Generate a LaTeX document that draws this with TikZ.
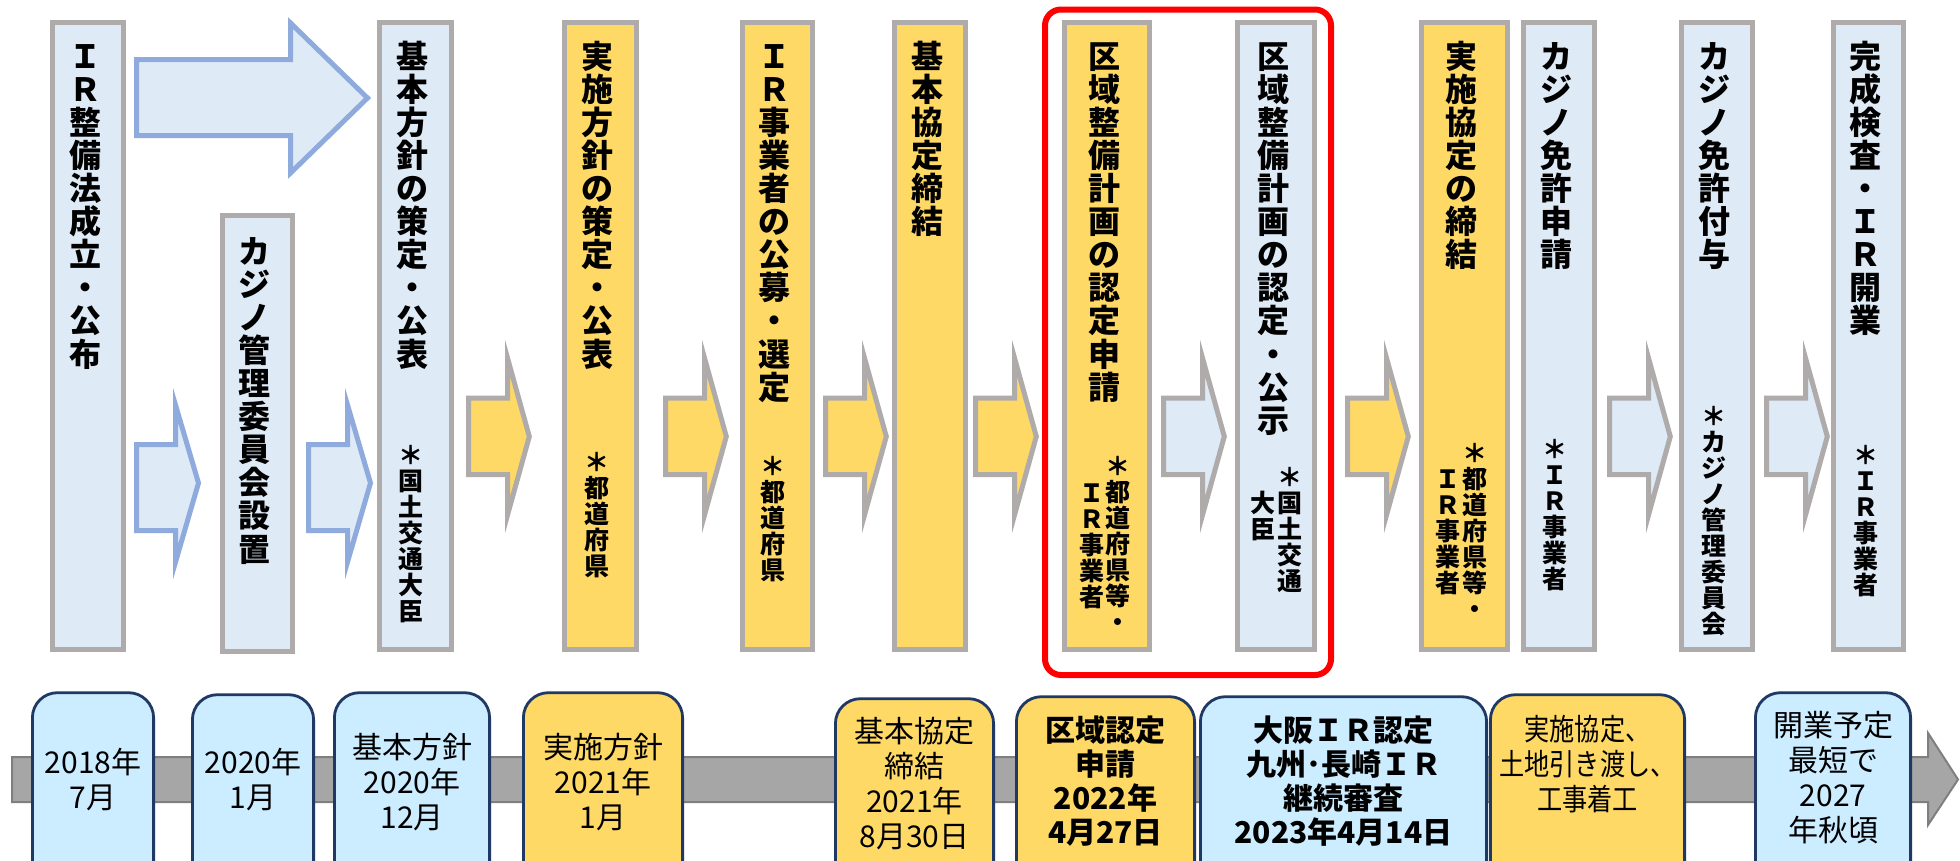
\documentclass[tikz,border=0pt]{standalone}
\usepackage{graphicx}
\usepackage{fontspec}
\setmainfont{Noto Sans CJK JP}
\makeatletter
\newdimen\vsp
\newcommand\vstack[1]{\vbox{\offinterlineskip\@tfor\vs@c:=#1\do{\hbox{\vrule height.86\vsp depth.14\vsp width0pt\vs@c}}}}
\makeatother
\newcommand\hdrfont{\bfseries\fontsize{32}{32}\selectfont\setlength\vsp{33.1pt}}
\newcommand\notefont{\bfseries\fontsize{25}{25}\selectfont\setlength\vsp{26pt}}
\newcommand\narrow[1]{\scalebox{0.84}[1]{#1}}
\definecolor{cblue}{HTML}{DEEBF7}
\definecolor{cyel}{HTML}{FFD966}
\definecolor{cgrey}{HTML}{AFABAB}
\definecolor{ablue}{HTML}{8FAADC}
\definecolor{tblue}{HTML}{CCECFF}
\definecolor{navy}{HTML}{1F3864}
\definecolor{barfill}{HTML}{A6A6A6}
\definecolor{barline}{HTML}{7F7F7F}
\tikzset{
  colb/.style={draw=cgrey, fill=cblue, line width=5, inner sep=0, outer sep=0},
  coly/.style={draw=cgrey, fill=cyel, line width=5, inner sep=0, outer sep=0},
  hdr/.style={anchor=north, inner sep=0, font=\hdrfont},
  note/.style={anchor=north, inner sep=0, font=\notefont},
  tlbox/.style={draw=navy, line width=2.8, rounded corners=25, inner sep=0, outer sep=0},
  tltext/.style={align=center, inner sep=0, font=\fontsize{30}{35}\selectfont},
  tlbold/.style={align=center, inner sep=0, font=\bfseries\fontsize{30}{34}\selectfont},
  arrB/.style={draw=ablue, fill=cblue, line width=5, line join=miter},
  arrY/.style={draw=cgrey, fill=cyel, line width=5, line join=miter},
  arrG/.style={draw=cgrey, fill=cblue, line width=5, line join=miter},
  grpbox/.style={draw=red, line width=6, rounded corners=16, inner sep=0},
  tlbar/.style={draw=barline, fill=barfill, line width=2, line join=miter}
}
% column box: name, style, x1, x2, y1, y2 (outer edges)
\newcommand\cbox[6]{\node[#2, minimum width={#4-#3-5}, minimum height={#6-#5-5}] (#1) at ({(#3+#4)/2},{(#5+#6)/2}) {};}
% timeline box: name, fill, x1, x2, ytop
\newcommand\tbox[5]{\node[tlbox, fill=#2, minimum width={#4-#3-2.8}, minimum height={900-#5}] (#1) at ({(#3+#4)/2},{(#5+1.4+900)/2}) {};}
% small block arrow (upper level): left outer x, style
\newcommand\yarrow[2]{\draw[#2] (#1+2.5,398)--(#1+41.5,398)--(#1+41.5,358)--(#1+63.3,436.5)--(#1+41.5,515)--(#1+41.5,474.5)--(#1+2.5,474.5)--cycle;}
% small block arrow (lower level)
\newcommand\barrow[2]{\draw[#2] (#1+2.5,444.5)--(#1+41.5,444.5)--(#1+41.5,405)--(#1+64.5,483)--(#1+41.5,562)--(#1+41.5,530.5)--(#1+2.5,530.5)--cycle;}
\begin{document}
\begin{tikzpicture}[x=1pt,y=-1pt]
\useasboundingbox (0,0) rectangle (1960,860);
\clip (0,0) rectangle (1960,860);
\fill[white] (0,0) rectangle (1960,860);
% block arrows
\draw[arrB] (136.5,59.5)--(290.5,59.5)--(290.5,23)--(367.5,98)--(290.5,173)--(290.5,135.5)--(136.5,135.5)--cycle;
\barrow{134}{arrB}
\barrow{306}{arrB}
\yarrow{466}{arrY}
\yarrow{663}{arrY}
\yarrow{823}{arrY}
\yarrow{973}{arrY}
\yarrow{1161}{arrG}
\yarrow{1345}{arrY}
\yarrow{1607}{arrG}
\yarrow{1764}{arrG}
% columns
\cbox{c1}{colb}{50}{126}{20}{652}
\cbox{c2}{colb}{220}{295}{213}{654}
\cbox{c3}{colb}{377}{454}{20}{652}
\cbox{c4}{coly}{562}{639}{20}{652}
\cbox{c5}{coly}{740}{815}{20}{652}
\cbox{c6}{coly}{892}{968}{20}{652}
\cbox{c7}{coly}{1062}{1152}{20}{652}
\cbox{c8}{colb}{1235}{1317}{20}{652}
\cbox{c9}{coly}{1419}{1510}{20}{652}
\cbox{c10}{colb}{1521}{1597}{20}{652}
\cbox{c11}{colb}{1679}{1755}{20}{652}
\cbox{c12}{colb}{1831}{1906}{20}{652}
% headers
\node[hdr] (h1) at (85,39.5) {\vstack{ＩＲ整備法成立・公布}};
\node[hdr] (h2) at (254.5,234.5) {\vstack{カジノ管理委員会設置}};
\node[hdr] (h3) at (412.5,39.5) {\vstack{基本方針の策定・公表}};
\node[hdr] (h4) at (597.5,39.5) {\vstack{実施方針の策定・公表}};
\node[hdr] (h5) at (774.5,39.5) {\vstack{ＩＲ事業者の公募・選定}};
\node[hdr] (h6) at (927,39.5) {\vstack{基本協定締結}};
\node[hdr] (h7) at (1104,39.5) {\vstack{区域整備計画の認定申請}};
\node[hdr] (h8) at (1273,39.5) {\vstack{区域整備計画の認定・公示}};
\node[hdr] (h9) at (1461.5,39.5) {\vstack{実施協定の締結}};
\node[hdr] (h10) at (1556,39.5) {\vstack{カジノ免許申請}};
\node[hdr] (h11) at (1714,39.5) {\vstack{カジノ免許付与}};
\node[hdr] (h12) at (1865.5,39.5) {\vstack{完成検査・ＩＲ開業}};
% notes
\node[note] (n3) at (411,442) {\vstack{＊国土交通大臣}};
\node[note] (n4) at (597,449) {\vstack{＊都道府県}};
\node[note] (n5) at (773,453) {\vstack{＊都道府県}};
\node[note] (n7a) at (1118,453) {\vstack{＊都道府県等・}};
\node[note] (n7b) at (1092,480) {\vstack{ＩＲ事業者}};
\node[note] (n8a) at (1290,464) {\vstack{＊国土交通}};
\node[note] (n8b) at (1263,490) {\vstack{大臣}};
\node[note] (n9a) at (1475,440) {\vstack{＊都道府県等・}};
\node[note] (n9b) at (1448,466) {\vstack{ＩＲ事業者}};
\node[note] (n10) at (1555,436) {\vstack{＊ＩＲ事業者}};
\node[note] (n11) at (1714,403) {\vstack{＊カジノ管理委員会}};
\node[note] (n12) at (1866,442) {\vstack{＊ＩＲ事業者}};
% red group frame
\node[grpbox, minimum width=286, minimum height=665.5] (grp) at (1188,342.25) {};
% timeline bar
\draw[tlbar] (12,757)--(1928,757)--(1928,733)--(1958,779.5)--(1928,825)--(1928,802)--(12,802)--cycle;
% timeline boxes
\tbox{t1}{tblue}{31}{155}{692}
\tbox{t2}{tblue}{191}{315}{694}
\tbox{t3}{tblue}{333}{491}{692}
\tbox{t4}{cyel}{522}{684}{692}
\tbox{t5}{cyel}{834}{995}{698}
\tbox{t6}{cyel}{1015}{1196}{696}
\tbox{t7}{tblue}{1199}{1488}{696}
\tbox{t8}{cyel}{1489}{1686}{694}
\tbox{t9}{tblue}{1754}{1912}{692}
% timeline texts
\node[tltext] (l1) at (93,780) {2018年\\7月};
\node[tltext] (l2) at (253,780) {2020年\\1月};
\node[tltext] (l3) at (412,782) {基本方針\\2020年\\12月};
\node[tltext] (l4) at (603,782) {実施方針\\2021年\\1月};
\node[tltext] (l5) at (914.5,783.5) {基本協定\\締結\\2021年\\8月30日};
\node[tlbold] (l6) at (1105.5,781) {区域認定\\申請\\2022年\\4月27日};
\node[tlbold] (l7) at (1343.5,781) {大阪ＩＲ認定\\九州･長崎ＩＲ\\継続審査\\2023年4月14日};
\node[tltext] (l8) at (1587.5,764) {\narrow{実施協定、}\\\narrow{土地引き渡し、}\\\narrow{工事着工}};
\node[tltext] (l9) at (1833,778) {開業予定\\最短で\\2027\\年秋頃};
\end{tikzpicture}
\end{document}
